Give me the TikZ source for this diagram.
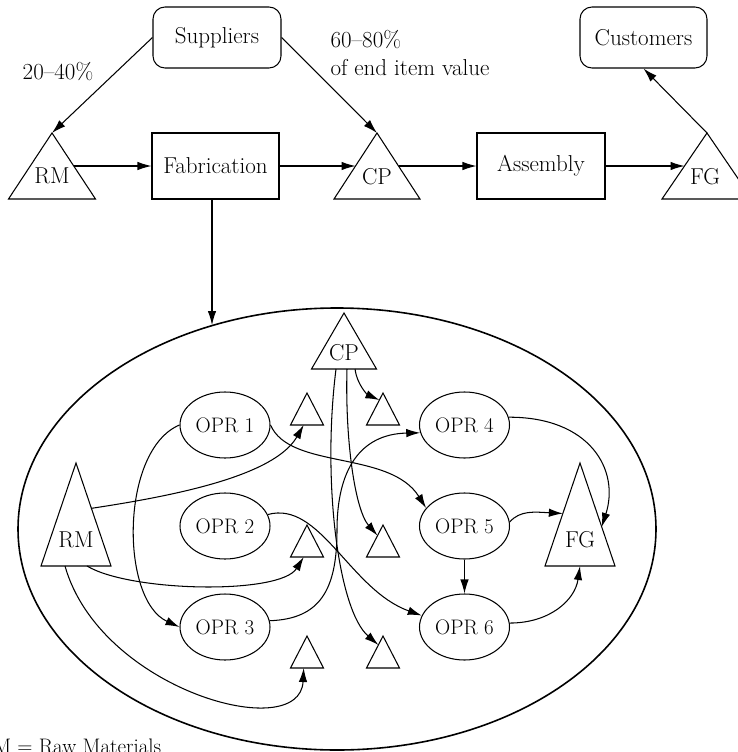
\documentclass[tikz,border=0pt]{standalone}
\usetikzlibrary{arrows.meta,shapes.geometric,calc}
\newcommand{\mytri}[5]{%
  \coordinate (#1-a) at (#2,#3);
  \coordinate (#1-l) at (#2-#4,#3-#5);
  \coordinate (#1-r) at (#2+#4,#3-#5);
  \draw (#1-a) -- (#1-l) -- (#1-r) -- cycle;
}
\begin{document}
\begin{tikzpicture}[x=1pt,y=1pt,
  every node/.style={font=\fontsize{21}{25}\selectfont},
  big/.style={font=\fontsize{23}{27}\selectfont},
  line width=1.05pt,
  arr/.style={-{Latex[length=14pt,width=8.5pt]}},
  rbox/.style={draw, big, rounded corners=12pt, minimum width=128pt, minimum height=61pt, inner sep=0pt},
  sbox/.style={draw, big, minimum width=127pt, minimum height=66pt, inner sep=0pt},
  opr/.style={draw, ellipse, minimum width=90pt, minimum height=66pt, inner sep=0pt},
  lab/.style={inner sep=0pt},
]
\useasboundingbox (0,0) rectangle (738,-752);
\clip (0,0) rectangle (738,-752);

% big ellipse
\node[draw, ellipse, minimum width=638pt, minimum height=442pt, inner sep=0pt, line width=1.6pt] (bigE) at (337,-529) {};

% top row
\node[rbox] (sup) at (217,-37.5) {Suppliers};
\node[rbox, minimum width=127pt] (cus) at (643.5,-37.5) {Customers};
\node[sbox] (fab) at (215.5,-166) {Fabrication};
\node[sbox, minimum width=128pt] (asm) at (541,-166) {Assembly};

\mytri{RMt}{52}{-133}{43.5}{66}
\mytri{CPt}{377}{-133}{43}{66}
\mytri{FGt}{707}{-133}{45}{66}
\node[lab, big] (RMtl) at (52,-176) {RM};
\node[lab, big] (CPtl) at (377,-177) {CP};
\node[lab, big] (FGtl) at (705,-177) {FG};

\node[lab, big, anchor=base] (p1) at (58,-80) {20--40\%};
\node[lab, big, anchor=base west] (p2) at (330,-48) {60--80\%};
\node[lab, big, anchor=base west] (p3) at (330,-76) {of end item value};

\coordinate (RMt-m) at ($(RMt-a)!0.5!(RMt-r)$);
\coordinate (CPt-ml) at ($(CPt-a)!0.5!(CPt-l)$);
\coordinate (CPt-mr) at ($(CPt-a)!0.5!(CPt-r)$);
\coordinate (FGt-ml) at ($(FGt-a)!0.5!(FGt-l)$);
\coordinate (fabin) at (212,-325);

\draw[arr] (sup.west) -- (RMt-a);
\draw[arr] (sup.east) -- (CPt-a);
\draw[arr] (FGt-a) -- (cus.south);
\draw[arr] (RMt-m) -- (fab.west);
\draw[arr] (fab.east) -- (CPt-ml);
\draw[arr] (CPt-mr) -- (asm.west);
\draw[arr] (asm.east) -- (FGt-ml);
\draw[arr] (fab.south -| fabin) -- (fabin);

% inner elements
\mytri{CPi}{344}{-313}{32.5}{56}
\mytri{T1}{307}{-393}{16.5}{32}
\mytri{T2}{383}{-393}{16.5}{32}
\mytri{T3}{307}{-525}{16.5}{32}
\mytri{T4}{383}{-525}{16.5}{32}
\mytri{T5}{307}{-636}{16.5}{32}
\mytri{T6}{383}{-636}{16.5}{32}
\mytri{RMi}{76}{-463}{35}{103}
\mytri{FGi}{580}{-463}{35}{103}
\node[lab, big] (CPil) at (344,-353) {CP};
\node[lab, big] (RMil) at (76,-540) {RM};
\node[lab, big] (FGil) at (580,-540) {FG};

\node[opr] (o1) at (225,-425) {OPR 1};
\node[opr] (o2) at (225,-526) {OPR 2};
\node[opr] (o3) at (225,-627) {OPR 3};
\node[opr] (o4) at (464.5,-425) {OPR 4};
\node[opr] (o5) at (464.5,-526) {OPR 5};
\node[opr] (o6) at (464.5,-627) {OPR 6};

% named attachment points
\coordinate (T1-b) at ($(T1-l)!0.4!(T1-r)$);
\coordinate (T3-b) at ($(T3-l)!0.4!(T3-r)$);
\coordinate (T5-b) at ($(T5-l)!0.4!(T5-r)$);
\coordinate (T2-e) at ($(T2-a)!0.22!(T2-l)$);
\coordinate (T4-e) at ($(T4-a)!0.33!(T4-l)$);
\coordinate (T6-e) at ($(T6-a)!0.28!(T6-l)$);
\coordinate (FGi-re) at ($(FGi-a)!0.62!(FGi-r)$);
\coordinate (FGi-le) at ($(FGi-a)!0.49!(FGi-l)$);
\coordinate (FGi-b) at ($(FGi-l)!0.5!(FGi-r)$);
\coordinate (CPi-b1) at ($(CPi-l)!0.377!(CPi-r)$);
\coordinate (CPi-b2) at ($(CPi-l)!0.546!(CPi-r)$);
\coordinate (CPi-b3) at ($(CPi-l)!0.67!(CPi-r)$);
\coordinate (RMi-re) at ($(RMi-a)!0.44!(RMi-r)$);
\coordinate (RMi-b1) at ($(RMi-l)!0.657!(RMi-r)$);
\coordinate (RMi-b2) at ($(RMi-l)!0.343!(RMi-r)$);

% RM connectors
\draw[arr] (RMi-re) .. controls (180,-495) and (275,-475) .. (T1-b);
\draw[arr] (RMi-b1) .. controls (130,-592) and (280,-595) .. (T3-b);
\draw[arr] (RMi-b2) .. controls (100,-690) and (300,-745) .. (T5-b);

% OPR connectors
\draw[arr] (o1.west) .. controls (120,-450) and (120,-600) .. (o3.west);
\draw[arr] (o1.east) .. controls (290,-470) and (390,-450) .. (o5.155);
\draw[arr] (o2.15) .. controls (320,-500) and (350,-590) .. (o6.165);
\draw[arr] (o3.8) .. controls (320,-619) and (337,-590) .. (337,-530)
   .. controls (337,-470) and (360,-434) .. (o4.190);

% CP connectors
\draw[arr] (CPi-b3) .. controls (357,-385) and (368,-395) .. (T2-e);
\draw[arr] (CPi-b2) .. controls (345,-440) and (355,-510) .. (T4-e);
\draw[arr] (CPi-b1) .. controls (322,-480) and (338,-610) .. (T6-e);

% to FG
\draw[arr] (o4.10) .. controls (590,-417) and (620,-470) .. (FGi-re);
\draw[arr] (o5.5) .. controls (520,-510) and (535,-512) .. (FGi-le);
\draw[arr] (o5.south) -- (o6.north);
\draw[arr] (o6.5) .. controls (550,-623) and (575,-600) .. (FGi-b);

\node[lab, anchor=base west] (legend) at (-21.5,-753) {RM = Raw Materials};
\end{tikzpicture}
\end{document}
